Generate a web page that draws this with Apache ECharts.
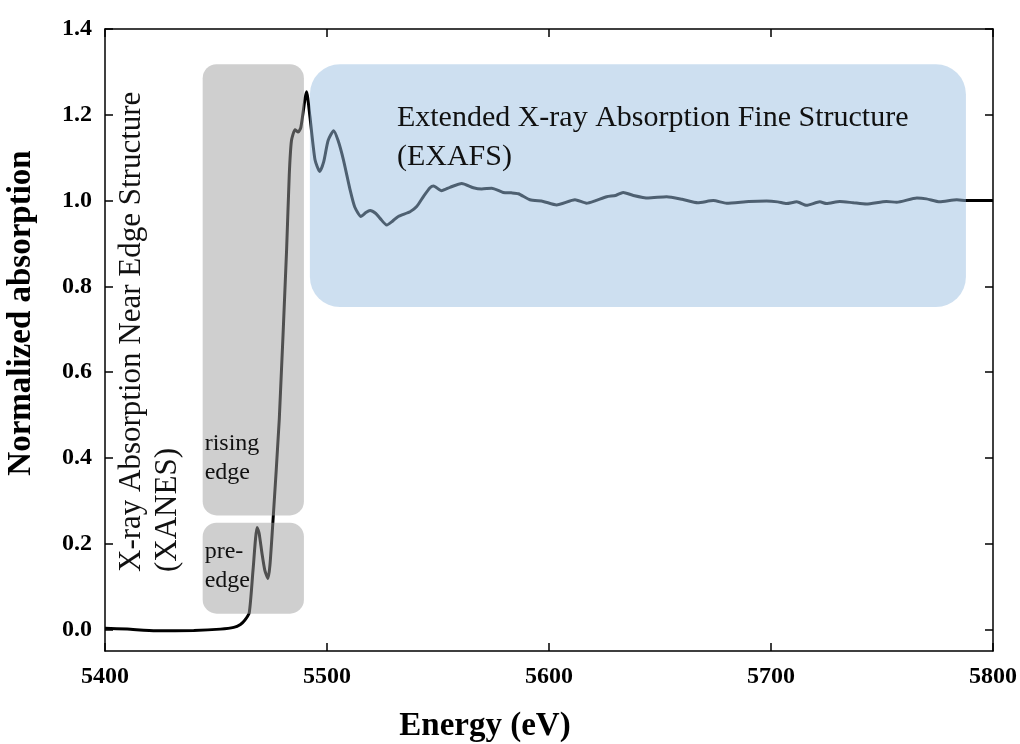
<!DOCTYPE html>
<html>
<head>
<meta charset="utf-8">
<script src="https://cdn.jsdelivr.net/npm/echarts@6/dist/echarts.min.js"></script>
<style>
  html, body { margin: 0; padding: 0; background: #fff; }
  #chart { width: 1020px; height: 744px; }
</style>
</head>
<body>
<div id="chart"></div>
<script>
// Spectrum (energy in eV, normalized absorption).
const energy = [
  5400, 5410, 5423, 5440, 5452, 5458, 5461, 5463, 5465, 5466.7,
  5468.5, 5469.4, 5470.7, 5472, 5473.4, 5474.3, 5475.7, 5478.5, 5481.8, 5483,
  5484, 5485.6, 5487, 5488.2, 5490.8, 5492.3, 5494.6, 5496.7, 5498.5, 5500.5,
  5503, 5505, 5507.4, 5510.4, 5512.5, 5515.3, 5517.5, 5519.4, 5522, 5524,
  5526.9, 5529.5, 5532.1, 5537.4, 5540.4, 5543.5, 5546.4, 5548, 5551.6, 5555.4,
  5560.7, 5565.9, 5569.7, 5574.2, 5579.4, 5583, 5586.2, 5591.4, 5597.4, 5603.4,
  5611.7, 5616.9, 5621, 5626, 5630, 5633.4, 5638, 5644.7, 5653, 5660,
  5667, 5674, 5680, 5690, 5698, 5703, 5707, 5711.6, 5716, 5722,
  5725, 5731, 5737, 5743, 5752, 5756.6, 5765.7, 5770, 5776, 5783.7,
  5788, 5800
];
const absorption = [
  0.003, 0.001, -0.003, -0.002, 0.001, 0.005, 0.012, 0.022, 0.04, 0.14,
  0.238, 0.225, 0.178, 0.138, 0.119, 0.15, 0.256, 0.49, 0.885, 1.06,
  1.14, 1.165, 1.16, 1.17, 1.254, 1.196, 1.095, 1.068, 1.09, 1.14,
  1.163, 1.14, 1.095, 1.025, 0.985, 0.963, 0.972, 0.977, 0.97, 0.958,
  0.943, 0.952, 0.963, 0.974, 0.986, 1.01, 1.03, 1.034, 1.023, 1.031,
  1.04, 1.03, 1.027, 1.029, 1.019, 1.018, 1.016, 1.002, 0.998, 0.99,
  1.002, 0.994, 1.0, 1.009, 1.012, 1.019, 1.012, 1.006, 1.009, 1.003,
  0.995, 1.0, 0.994, 0.998, 0.999, 0.997, 0.993, 0.997, 0.989, 0.997,
  0.993, 0.998, 0.995, 0.992, 0.998, 0.996, 1.006, 1.004, 0.997, 1.002,
  1.0, 1.0
];

// Shaded regions: energy span and absorption span of each box.
const regionLabels = ['rising\nedge', 'pre-\nedge', 'Extended X-ray Absorption Fine Structure\n(EXAFS)'];
const regionStart = [5444, 5444, 5492.3];
const regionEnd = [5489.6, 5489.6, 5787.8];
const regionLow = [0.266, 0.037, 0.752];
const regionHigh = [1.318, 0.249, 1.318];

const yTicks = [0, 0.2, 0.4, 0.6, 0.8, 1.0, 1.2, 1.4];
const xTicks = [5400, 5500, 5600, 5700, 5800];

const FONT = '"Liberation Serif", "Times New Roman", serif';

// How each box is painted and where its caption sits inside it.
const regionStyle = [
  { fill: 'rgba(160,160,160,0.5)', r: 14, anchor: 'bottom', dx: 2, dy: -28, size: 24, lh: 29 },
  { fill: 'rgba(160,160,160,0.5)', r: 14, anchor: 'top', dx: 2, dy: 14, size: 24, lh: 29 },
  { fill: 'rgba(155,191,225,0.5)', r: 30, anchor: 'top', dx: 87, dy: 34, size: 30, lh: 39 }
];

const lineData = energy.map((e, i) => [e, absorption[i]]);
const regionData = regionLabels.map((_, i) => [regionStart[i], regionEnd[i], regionLow[i], regionHigh[i], i]);

const chart = echarts.init(document.getElementById('chart'), null, { renderer: 'canvas' });

const tickStyle = { show: true, inside: true, length: 8, lineStyle: { color: '#000', width: 1.5 } };
const axisLine = { show: true, onZero: false, lineStyle: { color: '#000', width: 1.5 } };

chart.setOption({
  animation: false,
  grid: { left: 105, right: 27, top: 29, bottom: 93, containLabel: false, outerBoundsMode: 'none' },
  xAxis: [
    {
      type: 'value', min: 5400, max: 5800, interval: 100,
      axisLine: axisLine,
      axisTick: tickStyle,
      splitLine: { show: false },
      axisLabel: {
        margin: 14, color: '#000', fontFamily: FONT, fontWeight: 'bold', fontSize: 24,
        customValues: xTicks,
        formatter: (v) => String(v)
      },
      name: 'Energy (eV)', nameLocation: 'middle', nameGap: 59,
      nameTextStyle: { color: '#000', fontFamily: FONT, fontWeight: 'bold', fontSize: 33, padding: [0, 128, 0, 0] }
    },
    {
      type: 'value', position: 'top', min: 5400, max: 5800, interval: 100,
      axisLine: axisLine,
      axisTick: Object.assign({}, tickStyle, { customValues: xTicks }),
      axisLabel: { show: false },
      splitLine: { show: false }
    }
  ],
  yAxis: [
    {
      type: 'value', min: -0.05, max: 1.4,
      axisLine: axisLine,
      axisTick: Object.assign({}, tickStyle, { customValues: yTicks }),
      splitLine: { show: false },
      axisLabel: {
        margin: 13, color: '#000', fontFamily: FONT, fontWeight: 'bold', fontSize: 24,
        customValues: yTicks,
        formatter: (v) => v.toFixed(1)
      },
      name: 'Normalized absorption', nameLocation: 'middle', nameGap: 67,
      nameTextStyle: { color: '#000', fontFamily: FONT, fontWeight: 'bold', fontSize: 33, padding: [0, 0, 0, 54] }
    },
    {
      type: 'value', position: 'right', min: -0.05, max: 1.4,
      axisLine: axisLine,
      axisTick: Object.assign({}, tickStyle, { customValues: yTicks }),
      axisLabel: { show: false },
      splitLine: { show: false }
    }
  ],
  series: [
    {
      type: 'line', name: 'spectrum', data: lineData,
      xAxisIndex: 0, yAxisIndex: 0,
      showSymbol: false, smooth: 0.2, z: 2,
      lineStyle: { color: '#000', width: 3 }
    },
    {
      type: 'custom', name: 'regions', data: regionData,
      xAxisIndex: 0, yAxisIndex: 0, z: 3,
      renderItem: (params, api) => {
        const i = api.value(4);
        const st = regionStyle[i];
        const tl = api.coord([api.value(0), api.value(3)]);
        const br = api.coord([api.value(1), api.value(2)]);
        const ty = st.anchor === 'bottom' ? br[1] + st.dy : tl[1] + st.dy;
        return {
          type: 'group',
          children: [
            {
              type: 'rect',
              shape: { x: tl[0], y: tl[1], width: br[0] - tl[0], height: br[1] - tl[1], r: st.r },
              style: { fill: st.fill }
            },
            {
              type: 'text',
              x: tl[0] + st.dx, y: ty,
              style: {
                text: regionLabels[i], fill: '#111', fontFamily: FONT, fontSize: st.size,
                lineHeight: st.lh, align: 'left', verticalAlign: st.anchor
              }
            }
          ]
        };
      }
    }
  ],
  graphic: [
    {
      type: 'text', x: 114, y: 572, rotation: Math.PI / 2, z: 10,
      style: {
        text: 'X-ray Absorption Near Edge Structure\n(XANES)', fill: '#111',
        fontFamily: FONT, fontSize: 31, lineHeight: 36, align: 'left', verticalAlign: 'top'
      }
    }
  ]
});
</script>
</body>
</html>
